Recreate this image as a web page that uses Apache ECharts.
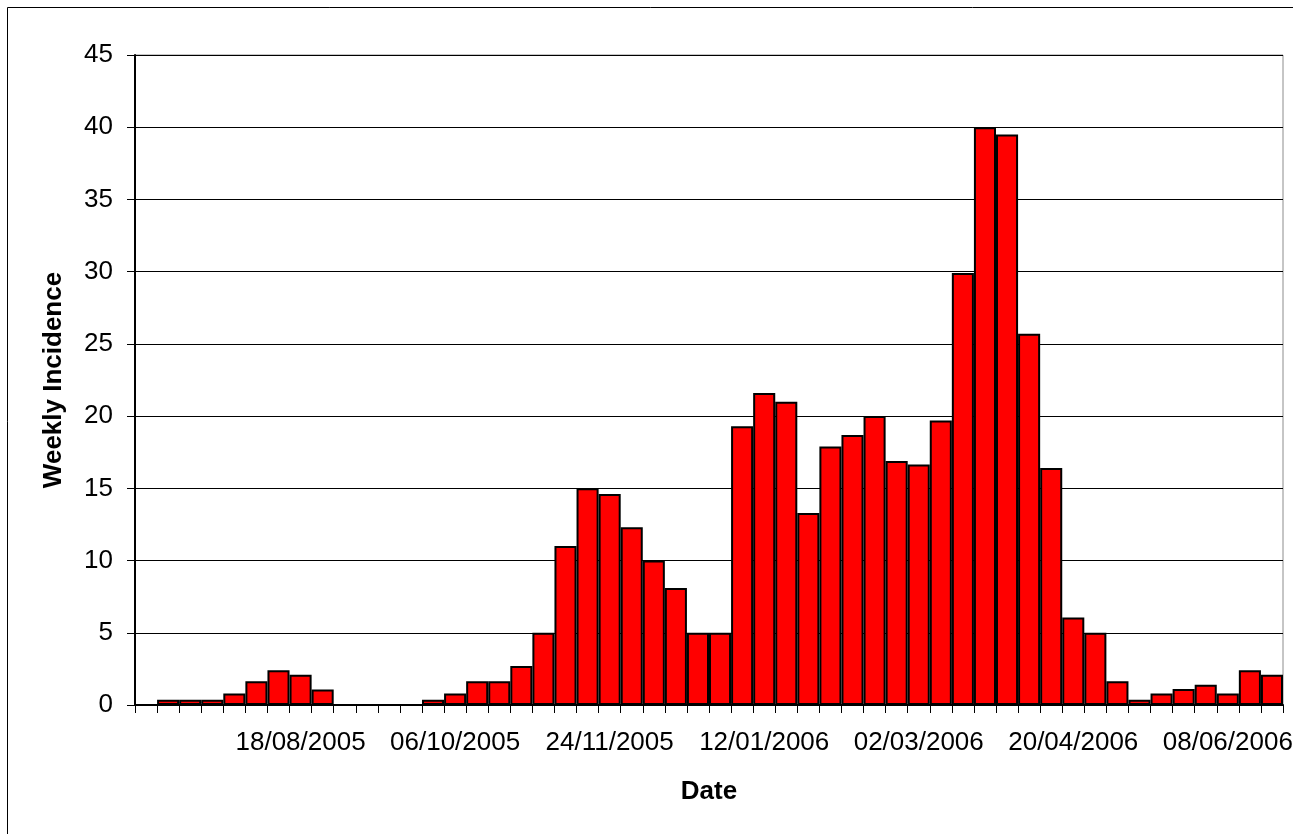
<!DOCTYPE html>
<html>
<head>
<meta charset="utf-8">
<script src="https://cdn.jsdelivr.net/npm/echarts@6/dist/echarts.min.js"></script>
<style>
  html, body { margin: 0; padding: 0; background: #fff; }
  #chart { width: 1293px; height: 834px; }
</style>
</head>
<body>
<div id="chart"></div>
<script>
// weekly dates (week starting)
const weeks = [
  '30/06/2005', '07/07/2005', '14/07/2005', '21/07/2005', '28/07/2005', '04/08/2005', '11/08/2005',
  '18/08/2005', '25/08/2005', '01/09/2005', '08/09/2005', '15/09/2005', '22/09/2005', '29/09/2005',
  '06/10/2005', '13/10/2005', '20/10/2005', '27/10/2005', '03/11/2005', '10/11/2005', '17/11/2005',
  '24/11/2005', '01/12/2005', '08/12/2005', '15/12/2005', '22/12/2005', '29/12/2005', '05/01/2006',
  '12/01/2006', '19/01/2006', '26/01/2006', '02/02/2006', '09/02/2006', '16/02/2006', '23/02/2006',
  '02/03/2006', '09/03/2006', '16/03/2006', '23/03/2006', '30/03/2006', '06/04/2006', '13/04/2006',
  '20/04/2006', '27/04/2006', '04/05/2006', '11/05/2006', '18/05/2006', '25/05/2006', '01/06/2006',
  '08/06/2006', '15/06/2006', '22/06/2006'
];

const incidence = [
  0, 0.36, 0.36, 0.36, 0.8, 1.65, 2.4, 2.1, 1.07, 0, 0, 0, 0,
  0.36, 0.8, 1.65, 1.65, 2.7, 5.0,
  11.0, 15.0, 14.6, 12.3, 10.0, 8.1, 5.0, 5.0,
  19.3, 21.6, 21.0, 13.3, 17.9, 18.7, 20.0, 16.9, 16.65, 19.7,
  29.9, 40.0, 39.5, 25.7, 16.4, 6.05, 5.0, 1.65,
  0.36, 0.8, 1.1, 1.4, 0.8, 2.4, 2.1
];

const yTicks = { min: 0, max: 45, interval: 5 };

const font = 'Liberation Sans, Arial, sans-serif';

const chart = echarts.init(document.getElementById('chart'));

chart.setOption({
  backgroundColor: '#fff',
  animation: false,
  graphic: [{
    type: 'rect',
    shape: { x: 7.5, y: 7.5, width: 1300, height: 840 },
    style: { fill: 'none', stroke: '#000', lineWidth: 1 },
    silent: true
  }],
  grid: {
    left: 135,
    right: 10,
    top: 55,
    bottom: 129,
    outerBoundsMode: 'none',
    containLabel: false,
    show: true,
    borderColor: '#8c8c8c',
    borderWidth: 1,
    backgroundColor: 'transparent'
  },
  xAxis: {
    type: 'category',
    data: weeks,
    name: 'Date',
    nameLocation: 'middle',
    nameGap: 74,
    nameTextStyle: { color: '#000', fontFamily: font, fontSize: 26, fontWeight: 'bold' },
    axisLine: { lineStyle: { color: '#000', width: 2 } },
    axisTick: { show: true, interval: 0, length: 8, lineStyle: { color: '#000', width: 1 } },
    axisLabel: {
      color: '#000',
      fontFamily: font,
      fontSize: 26,
      margin: 25,
      hideOverlap: false,
      interval: (i) => i > 0 && i % 7 === 0
    },
    splitLine: { show: false }
  },
  yAxis: {
    type: 'value',
    min: yTicks.min,
    max: yTicks.max,
    interval: yTicks.interval,
    name: 'Weekly Incidence',
    nameLocation: 'middle',
    nameRotate: 90,
    nameGap: 68,
    nameTextStyle: { color: '#000', fontFamily: font, fontSize: 26, fontWeight: 'bold' },
    axisLine: { show: true, lineStyle: { color: '#000', width: 2 } },
    axisTick: { show: true, length: 8, lineStyle: { color: '#000', width: 1 } },
    axisLabel: { color: '#000', fontFamily: font, fontSize: 26, margin: 22 },
    splitLine: { show: true, lineStyle: { color: '#000', width: 1 } }
  },
  series: [{
    type: 'bar',
    data: incidence,
    barCategoryGap: 0,
    itemStyle: { color: '#ff0000', borderColor: '#000', borderWidth: 2 }
  }]
});
</script>
</body>
</html>
